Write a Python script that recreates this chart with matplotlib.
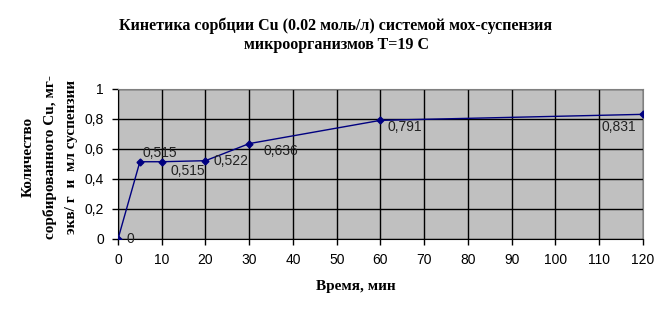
import matplotlib
matplotlib.use("Agg")
import matplotlib.pyplot as plt

# время, мин и количество сорбированного Cu
t = [0, 5, 10, 20, 30, 60, 120]
q = [0, 0.515, 0.515, 0.522, 0.636, 0.791, 0.831]
labels = ["0", "0,515", "0,515", "0,522", "0,636", "0,791", "0,831"]
xticks = list(range(0, 121, 10))
yticks = [0, 0.2, 0.4, 0.6, 0.8, 1]
yticklabels = ["0", "0,2", "0,4", "0,6", "0,8", "1"]

# смещения подписей (в точках)
offsets = [(6, 0), (2, 6), (6, -7), (6, 0), (10, -5), (5, -5), (-30, -9)]

fig = plt.figure(figsize=(6.72, 3.16), dpi=100)
ax = fig.add_axes([0.1756, 0.2437, 0.7812, 0.4747])
ax.set_facecolor("#c0c0c0")

ax.plot(t, q, color="#000080", lw=1, marker="D", ms=3.5, zorder=3)
for x, y, s, (dx, dy) in zip(t, q, labels, offsets):
    ax.annotate(s, (x, y), xytext=(dx, dy), textcoords="offset points",
                ha="left", va="center", fontsize=10, family="Liberation Sans",
                color="#222222")

ax.set_xlim(0, 120)
ax.set_ylim(0, 1)
ax.set_xticks(xticks)
ax.set_yticks(yticks)
ax.set_yticklabels(yticklabels)
ax.grid(True, color="black", lw=1)
ax.set_axisbelow(True)
ax.tick_params(direction="out", length=4, width=1, labelsize=10, pad=6)
for lab in ax.get_xticklabels() + ax.get_yticklabels():
    lab.set_family("Liberation Sans")
for s in ["top", "right"]:
    ax.spines[s].set_color("#808080")

ax.set_xlabel("Время, мин", family="Liberation Serif", fontweight="bold",
              fontsize=11)
ax.xaxis.set_label_coords(0.453, -0.273)

fig.text(0.5, 0.888, "Кинетика сорбции Cu (0.02 моль/л) системой мох-суспензия\n"
         "микроорганизмов T=19 C", ha="center", va="center",
         family="Liberation Serif", fontweight="bold", fontsize=11.5,
         linespacing=1.3)

fig.text(0.074, 0.503, "Количество\nсорбированного Cu, мг-\nэкв/ г  и  мл суспензии",
         rotation=90, ha="center", va="center", family="Liberation Serif",
         fontweight="bold", fontsize=11, linespacing=1.75)

fig.savefig("out.png", dpi=100)
